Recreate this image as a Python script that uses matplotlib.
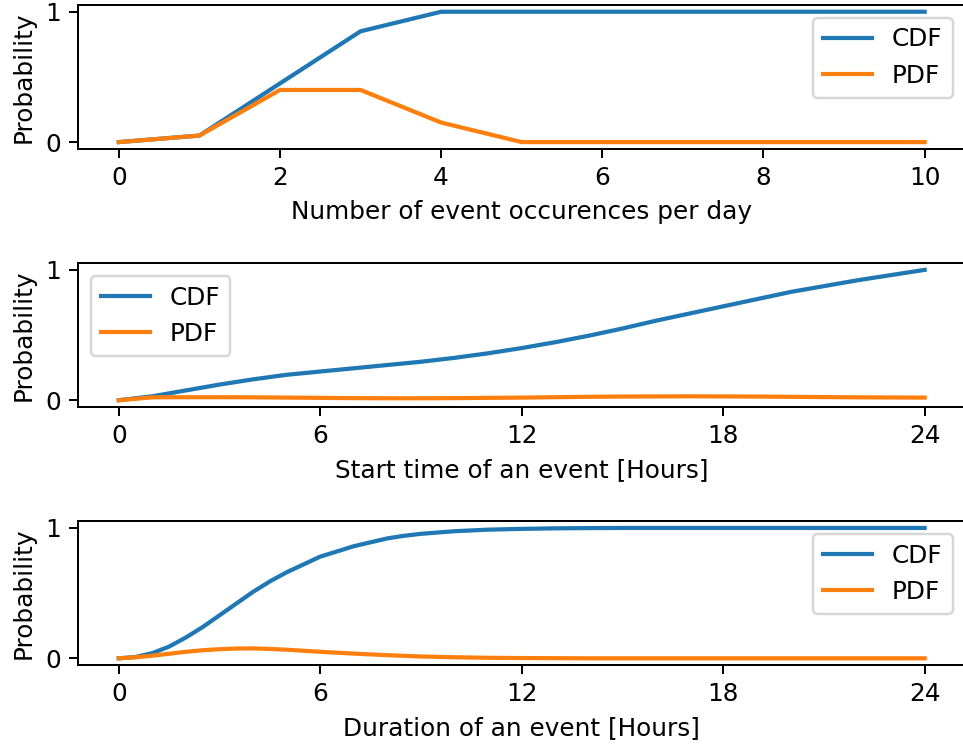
import matplotlib
matplotlib.use("Agg")
import matplotlib.pyplot as plt

# Number of event occurences per day
occ_x = [0, 1, 2, 3, 4, 5, 6, 7, 8, 9, 10]
occ_cdf = [0.0, 0.05, 0.45, 0.85, 1.0, 1.0, 1.0, 1.0, 1.0, 1.0, 1.0]
occ_pdf = [0.0, 0.05, 0.40, 0.40, 0.15, 0.0, 0.0, 0.0, 0.0, 0.0, 0.0]

# Start time of an event [Hours]
start_x = [0, 1, 2, 3, 4, 5, 6, 7, 8, 9, 10, 11, 12,
           13, 14, 15, 16, 17, 18, 19, 20, 21, 22, 23, 24]
start_cdf = [0.0, 0.03, 0.075, 0.12, 0.16, 0.195, 0.22, 0.245, 0.27, 0.295,
             0.325, 0.36, 0.40, 0.445, 0.495, 0.55, 0.61, 0.665, 0.72,
             0.775, 0.83, 0.875, 0.92, 0.96, 1.0]
start_pdf = [0.0, 0.022, 0.023, 0.023, 0.022, 0.02, 0.018, 0.016, 0.015,
             0.015, 0.016, 0.018, 0.02, 0.023, 0.026, 0.028, 0.029, 0.03,
             0.029, 0.028, 0.026, 0.024, 0.022, 0.021, 0.02]

# Duration of an event [Hours]
dur_x = [0, 0.5, 1, 1.5, 2, 2.5, 3, 3.5, 4, 4.5, 5, 5.5, 6, 6.5, 7, 7.5, 8,
         8.5, 9, 10, 11, 12, 13, 14, 15, 16, 18, 20, 22, 24]
dur_cdf = [0.0, 0.01, 0.04, 0.09, 0.16, 0.24, 0.33, 0.42, 0.51, 0.59, 0.66,
           0.72, 0.78, 0.82, 0.86, 0.89, 0.92, 0.94, 0.955, 0.975, 0.987,
           0.993, 0.997, 0.999, 1.0, 1.0, 1.0, 1.0, 1.0, 1.0]
dur_pdf = [0.0, 0.008, 0.02, 0.035, 0.05, 0.062, 0.07, 0.075, 0.076, 0.072,
           0.066, 0.058, 0.05, 0.043, 0.036, 0.03, 0.024, 0.019, 0.014,
           0.008, 0.004, 0.002, 0.001, 0.0, 0.0, 0.0, 0.0, 0.0, 0.0, 0.0]

DPI = 178
fig, axes = plt.subplots(3, 1, figsize=(963 / DPI, 747 / DPI), dpi=DPI)
fig.subplots_adjust(left=0.0815, right=1.002, top=0.993, bottom=0.11,
                    hspace=0.80)

panels = [
    (occ_x, occ_cdf, occ_pdf, 'Number of event occurences per day', None, 'upper right'),
    (start_x, start_cdf, start_pdf, 'Start time of an event [Hours]', [0, 6, 12, 18, 24], 'upper left'),
    (dur_x, dur_cdf, dur_pdf, 'Duration of an event [Hours]', [0, 6, 12, 18, 24], 'upper right'),
]

for ax, (x, cdf, pdf, xlabel, ticks, loc) in zip(axes, panels):
    ax.plot(x, cdf, label='CDF', linewidth=1.7)
    ax.plot(x, pdf, label='PDF', linewidth=1.7)
    ax.set_xlabel(xlabel)
    ax.set_ylabel('Probability')
    ax.set_yticks([0, 1])
    if ticks is not None:
        ax.set_xticks(ticks)
    ax.legend(loc=loc)

fig.savefig('out.png', dpi=DPI)
